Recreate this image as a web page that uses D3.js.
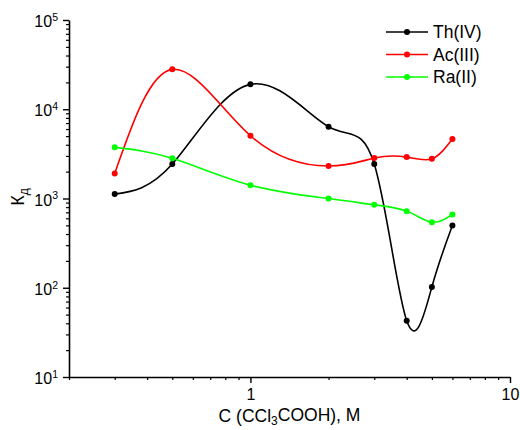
<!DOCTYPE html>
<html>
<head>
<meta charset="utf-8">
<script src="https://cdn.jsdelivr.net/npm/d3@7"></script>
<style>
  body { margin: 0; background: #fff; }
  text { font-family: "Liberation Sans", Arial, sans-serif; fill: #000; }
</style>
</head>
<body>
<svg id="chart" width="520" height="430"></svg>
<script>
// concentrations, M
var concentrations = [0.3, 0.5, 1, 2, 3, 4, 5, 6];
var thValues = [1120, 2430, 19000, 6370, 2430, 42.6, 102, 499];
var acValues = [1910, 28000, 5050, 2310, 2840, 2910, 2780, 4630];
var raValues = [3740, 2820, 1410, 1000, 850, 722, 543, 663];
var seriesNames = ["Th(IV)", "Ac(III)", "Ra(II)"];
var seriesColors = ["#000000", "#ff0000", "#00ff00"];
var yTickExponents = [1, 2, 3, 4, 5];
var xTickValues = [1, 10];

var series = [
  {id: seriesNames[0], values: thValues, color: seriesColors[0]},
  {id: seriesNames[1], values: acValues, color: seriesColors[1]},
  {id: seriesNames[2], values: raValues, color: seriesColors[2]}
];

var svg = d3.select("#chart"),
    margin = {top: 20, right: 10, bottom: 53, left: 69},
    width = 510 - margin.left,
    height = 377 - margin.top,
    g = svg.append("g").attr("transform", "translate(" + margin.left + "," + margin.top + ")");

var x = d3.scaleLog().domain([0.2, 10]).range([0, width]),
    y = d3.scaleLog().domain([10, 1e5]).range([height, 0]);

var line = d3.line()
    .curve(d3.curveNatural)
    .x(function(d, i) { return x(concentrations[i]); })
    .y(function(d) { return y(d); });

// minor ticks
var xMinor = [], yMinor = [];
[0.1, 1].forEach(function(b) { for (var k = 2; k <= 9; k++) { var v = b * k; if (v >= 0.2 && v < 10) xMinor.push(v); } });
[10, 100, 1000, 10000].forEach(function(b) { for (var k = 2; k <= 9; k++) yMinor.push(b * k); });

g.append("g")
    .attr("transform", "translate(0," + height + ")")
    .call(d3.axisBottom(x).tickValues(xMinor).tickSize(3).tickFormat(""))
    .call(function(a) { a.select(".domain").remove(); a.selectAll("line").attr("stroke-width", 1.2); });

g.append("g")
    .call(d3.axisLeft(y).tickValues(yMinor).tickSize(3).tickFormat(""))
    .call(function(a) { a.select(".domain").remove(); a.selectAll("line").attr("stroke-width", 1.2); });

var xAxis = g.append("g")
    .attr("transform", "translate(0," + height + ")")
    .call(d3.axisBottom(x).tickValues(xTickValues).tickSize(6).tickSizeOuter(0).tickPadding(6).tickFormat(d3.format("d")));
xAxis.select(".domain").attr("stroke-width", 1.6);
xAxis.selectAll("line").attr("stroke-width", 1.4);
xAxis.selectAll("text").style("font-size", "16px");

var yAxis = g.append("g")
    .call(d3.axisLeft(y).tickValues(yTickExponents.map(function(e) { return Math.pow(10, e); })).tickSize(6).tickSizeOuter(0).tickPadding(4).tickFormat(""));
yAxis.select(".domain").attr("stroke-width", 1.6);
yAxis.selectAll("line").attr("stroke-width", 1.4);
yAxis.selectAll(".tick").append("text")
    .attr("x", -11)
    .attr("dy", "0.42em")
    .attr("text-anchor", "end")
    .style("font-size", "16px")
    .each(function(d) {
      var t = d3.select(this);
      t.append("tspan").text("10");
      t.append("tspan").attr("dy", "-0.6em").style("font-size", "10.5px").text(Math.round(Math.log10(d)));
    });

// axis titles
var yTitle = svg.append("text")
    .attr("transform", "translate(24,197) rotate(-90)")
    .attr("text-anchor", "middle")
    .style("font-size", "18px");
yTitle.append("tspan").text("К");
yTitle.append("tspan").attr("dy", "0.35em").style("font-size", "12px").text("д");

var xTitle = svg.append("text")
    .attr("x", margin.left + width / 2)
    .attr("y", 422)
    .attr("text-anchor", "middle")
    .style("font-size", "17.5px");
xTitle.append("tspan").text("C (CCl");
xTitle.append("tspan").attr("dy", "0.25em").style("font-size", "12px").text("3");
xTitle.append("tspan").attr("dy", "-0.25em").text("COOH), M");

// curves
var seriesG = g.selectAll(".series")
  .data(series)
  .enter().append("g")
    .attr("class", "series");

seriesG.append("path")
    .attr("fill", "none")
    .attr("stroke-width", 1.6)
    .attr("stroke", function(d) { return d.color; })
    .attr("d", function(d) { return line(d.values); });

seriesG.selectAll("circle")
  .data(function(d) { return d.values.map(function(v, i) { return {v: v, i: i, color: d.color}; }); })
  .enter().append("circle")
    .attr("cx", function(d) { return x(concentrations[d.i]); })
    .attr("cy", function(d) { return y(d.v); })
    .attr("r", 3)
    .attr("fill", function(d) { return d.color; });

// legend
var legend = svg.append("g").attr("transform", "translate(386,32)");
var item = legend.selectAll("g")
  .data(series)
  .enter().append("g")
    .attr("transform", function(d, i) { return "translate(0," + i * 22.5 + ")"; });
item.append("line")
    .attr("x1", 0).attr("x2", 42)
    .attr("stroke-width", 1.6)
    .attr("stroke", function(d) { return d.color; });
item.append("circle")
    .attr("cx", 21).attr("r", 3)
    .attr("fill", function(d) { return d.color; });
item.append("text")
    .attr("x", 47)
    .attr("dy", "0.36em")
    .style("font-size", "17.5px")
    .text(function(d) { return d.id; });
</script>
</body>
</html>
